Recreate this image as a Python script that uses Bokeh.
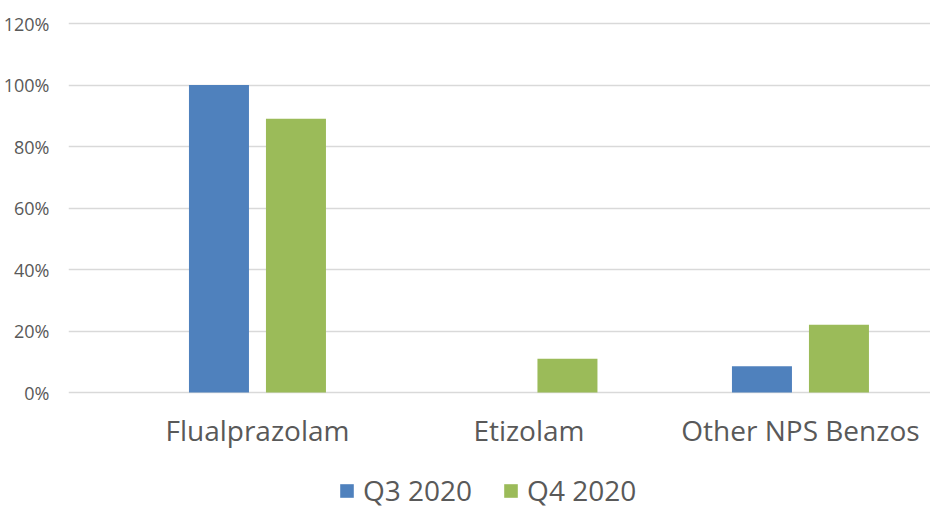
from bokeh.plotting import figure
from bokeh.layouts import column
from bokeh.models import ColumnDataSource, FixedTicker, PrintfTickFormatter, Legend, LegendItem
from bokeh.embed import file_html
from bokeh.resources import INLINE

categories = ["Flualprazolam", "Etizolam", "Other NPS Benzos"]
series_names = ["Q3 2020", "Q4 2020"]
q3_2020 = [100, 0, 8.5]
q4_2020 = [89, 11, 22]
y_ticks = [0, 20, 40, 60, 80, 100, 120]

colors = ["#4F81BD", "#9BBB59"]
text_color = "#595959"
font = "Open Sans"

xpos = [1, 2, 3]
offset = 0.1418
bar_w = 0.221

p = figure(frame_width=862, frame_height=376, output_backend="svg", toolbar_location=None,
           x_range=(0.304, 3.479), y_range=(-0.65, 121.63),
           min_border_left=68, min_border_top=18, min_border_right=0, min_border_bottom=56)

for i, vals in enumerate([q3_2020, q4_2020]):
    sign = -1 if i == 0 else 1
    src = ColumnDataSource(dict(x=[x + sign * offset for x in xpos], top=vals))
    p.vbar(x="x", top="top", bottom=0, width=bar_w, source=src,
           fill_color=colors[i], line_color=None)

p.outline_line_color = None
p.xgrid.grid_line_color = None
p.ygrid.grid_line_color = "#D9D9D9"
p.ygrid.grid_line_width = 1.5
p.yaxis.ticker = FixedTicker(ticks=y_ticks)
p.ygrid.ticker = FixedTicker(ticks=y_ticks)
p.yaxis.formatter = PrintfTickFormatter(format="%d%%")
p.yaxis.axis_line_color = None
p.yaxis.major_tick_line_color = None
p.yaxis.minor_tick_line_color = None
p.yaxis.major_label_text_font = font
p.yaxis.major_label_text_font_size = "18px"
p.yaxis.major_label_text_color = text_color
p.yaxis.major_label_standoff = 13

p.xaxis.ticker = FixedTicker(ticks=xpos)
p.xaxis.major_label_overrides = {x: c for x, c in zip(xpos, categories)}
p.xaxis.axis_line_color = None
p.xaxis.major_tick_line_color = None
p.xaxis.minor_tick_line_color = None
p.xaxis.major_label_text_font = font
p.xaxis.major_label_text_font_size = "28px"
p.xaxis.major_label_text_color = text_color
p.xaxis.major_label_standoff = 10

# legend strip below the chart (swatch renderers have zero height, so draw nothing)
lg = figure(width=930, height=58, output_backend="svg", toolbar_location=None,
            x_axis_type=None, y_axis_type=None, x_range=(0, 1), y_range=(0, 1),
            min_border_left=0, min_border_right=0, min_border_top=0, min_border_bottom=0)
lg.outline_line_color = None
lg.grid.visible = False
items = []
for i, name in enumerate(series_names):
    r = lg.vbar(x=[0.5], top=[0], bottom=[0], width=0.01, fill_color=colors[i], line_color=None)
    items.append(LegendItem(label=name, renderers=[r]))
legend = Legend(items=items, orientation="horizontal", location=(270, 0),
                label_text_font=font, label_text_font_size="28px", label_text_color=text_color,
                glyph_width=17, glyph_height=17, spacing=30, padding=0, margin=0,
                label_standoff=8, border_line_color=None, background_fill_alpha=0)
lg.add_layout(legend)

layout = column(p, lg, spacing=0)
open("out.html", "w").write(file_html(layout, INLINE))
